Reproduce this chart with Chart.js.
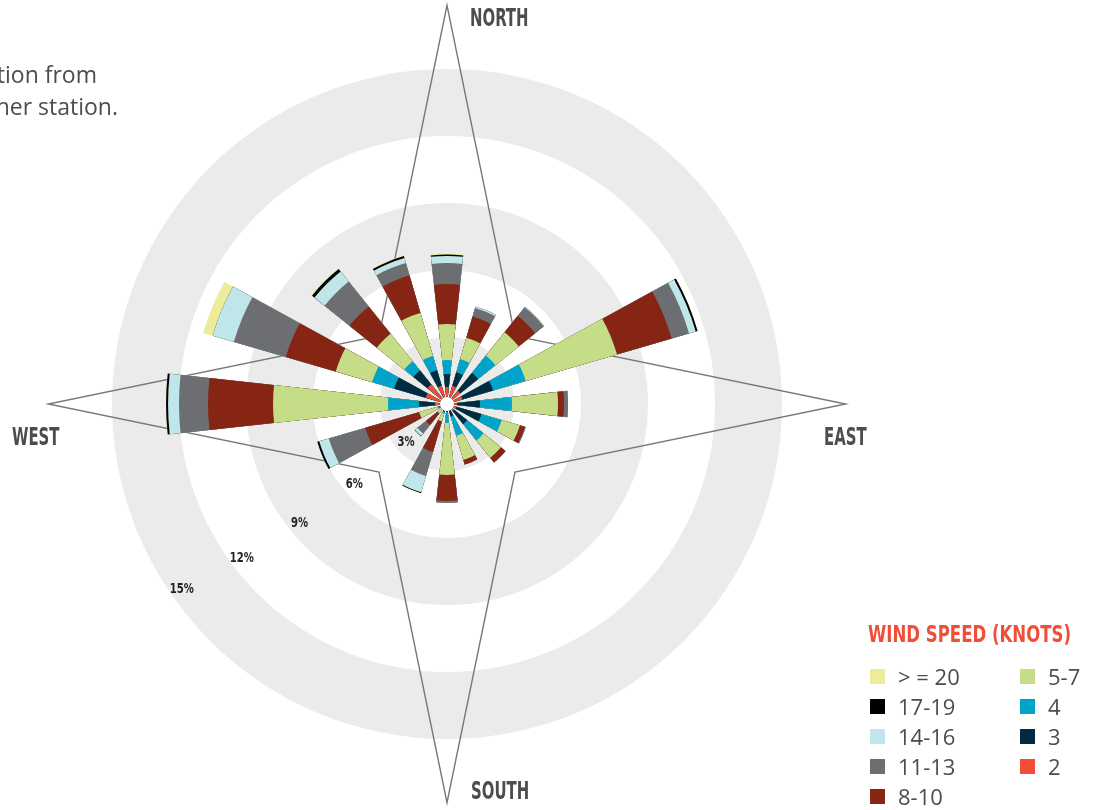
<!DOCTYPE html>
<html>
<head>
<meta charset="utf-8">
<script src="https://cdn.jsdelivr.net/npm/chart.js@4.4.1/dist/chart.umd.min.js"></script>
<style>
  html, body { margin: 0; padding: 0; background: #fff; }
  body { width: 1094px; height: 810px; position: relative; overflow: hidden; font-family: "Open Sans", "Liberation Sans", sans-serif; }
  #rose { position: absolute; left: 0; top: 0; }
  .cap { position: absolute; font-size: 23px; line-height: 26px; color: #4d4d4f; white-space: nowrap; text-align: right; }
  .dir { position: absolute; font-family: "Liberation Sans Narrow", "DejaVu Sans Condensed", sans-serif; font-weight: bold; font-size: 24px; line-height: 24px; color: #4d4d4f; white-space: nowrap; transform-origin: left top; transform: scaleX(0.69); }
  #legendTitle { position: absolute; left: 868px; top: 622px; font-family: "Liberation Sans Narrow", "DejaVu Sans Condensed", sans-serif; font-weight: bold; font-size: 23px; line-height: 24px; color: #f04e37; white-space: nowrap; transform-origin: left top; transform: scaleX(0.8); }
  #legend { position: absolute; left: 870px; top: 661px; display: grid; grid-template-columns: 150px 80px; grid-template-rows: repeat(5, 30px); grid-auto-flow: column; }
  .item { display: flex; align-items: center; height: 30px; font-size: 22px; color: #4d4d4f; white-space: nowrap; }
  .sw { width: 15px; height: 15px; margin-right: 13px; flex: none; }
</style>
</head>
<body>
<canvas id="rose" width="1094" height="810"></canvas>

<div class="cap" style="right:997px; top:61px;">Wind speed and direction from</div>
<div class="cap" style="right:976px; top:93px;">the airport weather station.</div>

<div class="dir" style="left:470px; top:6px;">NORTH</div>
<div class="dir" style="left:12px; top:425px;">WEST</div>
<div class="dir" style="left:824px; top:425px;">EAST</div>
<div class="dir" style="left:471px; top:779px;">SOUTH</div>

<div id="legendTitle">WIND SPEED (KNOTS)</div>
<div id="legend"></div>

<script>
// direcciones, en sentido horario desde el norte
const directions = ['N', 'NNE', 'NE', 'ENE', 'E', 'ESE', 'SE', 'SSE', 'S', 'SSW', 'SW', 'WSW', 'W', 'WNW', 'NW', 'NNW'];

// categorias de velocidad (nudos), de la mas baja a la mas alta
const speedLabels = ['2', '3', '4', '5-7', '8-10', '11-13', '14-16', '17-19', '> = 20'];
const speedColors = ['#f04e37', '#002b40', '#00a3c9', '#c5dd87', '#862514', '#6d6e71', '#bfe6ea', '#000000', '#ecec9a'];

// frecuencia (%) por direccion para cada categoria
const speed2      = [0.76, 0.85, 0.76, 0.72, 0.45, 0.45, 0.40, 0.31, 0.31, 0.31, 0.31, 0.31, 0.54, 0.99, 1.12, 0.85];
const speed3      = [0.58, 0.63, 1.03, 1.43, 1.03, 1.16, 0.76, 0.27, 0.05, 0.05, 0.00, 0.05, 0.71, 1.47, 0.81, 0.72];
const speed4      = [0.63, 0.62, 0.99, 1.52, 1.43, 0.94, 0.94, 0.90, 0.49, 0.09, 0.00, 0.09, 1.39, 1.03, 0.53, 0.67];
const speed5to7   = [1.61, 0.99, 1.34, 4.26, 2.06, 0.85, 0.99, 1.12, 2.33, 0.36, 0.23, 0.85, 5.15, 1.70, 1.57, 2.01];
const speed8to10  = [1.79, 0.99, 0.94, 2.55, 0.27, 0.23, 0.27, 0.22, 1.16, 1.43, 0.67, 2.51, 2.91, 2.33, 1.57, 1.75];
const speed11to13 = [0.94, 0.40, 0.49, 0.81, 0.18, 0.04, 0.00, 0.00, 0.09, 1.12, 0.49, 1.70, 1.30, 2.42, 1.43, 0.58];
const speed14to16 = [0.32, 0.07, 0.03, 0.31, 0.00, 0.00, 0.00, 0.00, 0.00, 0.76, 0.14, 0.45, 0.49, 0.99, 0.58, 0.23];
const speed17to19 = [0.06, 0.00, 0.00, 0.09, 0.00, 0.00, 0.00, 0.00, 0.00, 0.04, 0.02, 0.09, 0.09, 0.00, 0.14, 0.09];
const speed20plus = [0.04, 0.00, 0.00, 0.00, 0.00, 0.00, 0.00, 0.00, 0.00, 0.00, 0.00, 0.00, 0.00, 0.44, 0.04, 0.03];

// anillos del eje radial (%)
const ringTicks = [3, 6, 9, 12, 15];
const ringLabels = ['3%', '6%', '9%', '12%', '15%'];

const speedSeries = [speed2, speed3, speed4, speed5to7, speed8to10, speed11to13, speed14to16, speed17to19, speed20plus];

const barAngle = 12.5; // grados de cada barra
const gapAngle = 22.5 - barAngle; // hueco entre barras

// polarArea no apila: dibujamos los acumulados, el mas pequeño encima
let slotLabels = [];
for (let d of directions) {
  slotLabels.push(d);
  slotLabels.push('');
}

let datasets = [];
for (let k = 0; k < speedSeries.length; k++) {
  let data = [];
  for (let i = 0; i < directions.length; i++) {
    let total = 0;
    for (let j = 0; j <= k; j++) total += speedSeries[j][i];
    data.push(total);
    data.push(0); // hueco
  }
  datasets.push({
    label: speedLabels[k],
    data: data,
    backgroundColor: speedColors[k],
    borderWidth: 0,
    angle: (c) => (c.dataIndex % 2 ? gapAngle : barAngle)
  });
}

const decor = {
  id: 'decor',
  beforeDatasetsDraw(chart) {
    const s = chart.scales.r;
    const c = chart.ctx;
    const cx = s.xCenter, cy = s.yCenter;
    c.save();
    // bandas grises alternas
    c.fillStyle = '#ebebeb';
    let prev = 0;
    for (let i = 0; i < ringTicks.length; i++) {
      if (i % 2 === 0) {
        const r0 = s.getDistanceFromCenterForValue(prev);
        const r1 = s.getDistanceFromCenterForValue(ringTicks[i]);
        c.beginPath();
        c.arc(cx, cy, r1, 0, Math.PI * 2);
        c.arc(cx, cy, r0, 0, Math.PI * 2, true);
        c.fill('evenodd');
      }
      prev = ringTicks[i];
    }
    // estrella de los vientos
    const tip = s.drawingArea * 1.19;
    const inner = s.drawingArea * 0.287;
    c.beginPath();
    for (let i = 0; i < 8; i++) {
      const a = (-90 + i * 45) * Math.PI / 180;
      const rr = i % 2 === 0 ? tip : inner;
      const x = cx + Math.cos(a) * rr, y = cy + Math.sin(a) * rr;
      if (i === 0) c.moveTo(x, y); else c.lineTo(x, y);
    }
    c.closePath();
    c.strokeStyle = '#77787b';
    c.lineWidth = 1.4;
    c.stroke();
    c.restore();
  },
  afterDatasetsDraw(chart) {
    const s = chart.scales.r;
    const c = chart.ctx;
    const cx = s.xCenter, cy = s.yCenter;
    c.save();
    // agujero central
    c.fillStyle = '#fff';
    c.beginPath();
    c.arc(cx, cy, 7, 0, Math.PI * 2);
    c.fill();
    // etiquetas de los anillos
    c.fillStyle = '#231f20';
    c.font = 'bold 14px "Liberation Sans Narrow", "DejaVu Sans Condensed", sans-serif';
    c.textAlign = 'center';
    c.textBaseline = 'middle';
    for (let i = 0; i < ringTicks.length; i++) {
      const rr = s.getDistanceFromCenterForValue(ringTicks[i] - 0.5);
      const a = (137 + i * 2) * Math.PI / 180;
      c.save();
      c.translate(cx + Math.cos(a) * rr, cy + Math.sin(a) * rr);
      c.scale(0.8, 1);
      c.fillText(ringLabels[i], 0, 0);
      c.restore();
    }
    c.restore();
  }
};

new Chart(document.getElementById('rose'), {
  type: 'polarArea',
  data: { labels: slotLabels, datasets: datasets },
  options: {
    responsive: false,
    animation: false,
    layout: { padding: { left: 112, right: 312, top: 69, bottom: 71 } },
    plugins: { legend: { display: false }, tooltip: { enabled: false } },
    scales: {
      r: {
        min: 0,
        max: 15,
        startAngle: -barAngle / 2,
        ticks: { display: false },
        grid: { display: false },
        angleLines: { display: false },
        pointLabels: { display: false }
      }
    }
  },
  plugins: [decor]
});

// leyenda: de la categoria mas alta a la mas baja
const legend = document.getElementById('legend');
for (let k = speedLabels.length - 1; k >= 0; k--) {
  const item = document.createElement('div');
  item.className = 'item';
  const sw = document.createElement('span');
  sw.className = 'sw';
  sw.style.background = speedColors[k];
  item.appendChild(sw);
  item.appendChild(document.createTextNode(speedLabels[k]));
  legend.appendChild(item);
}
</script>
</body>
</html>
